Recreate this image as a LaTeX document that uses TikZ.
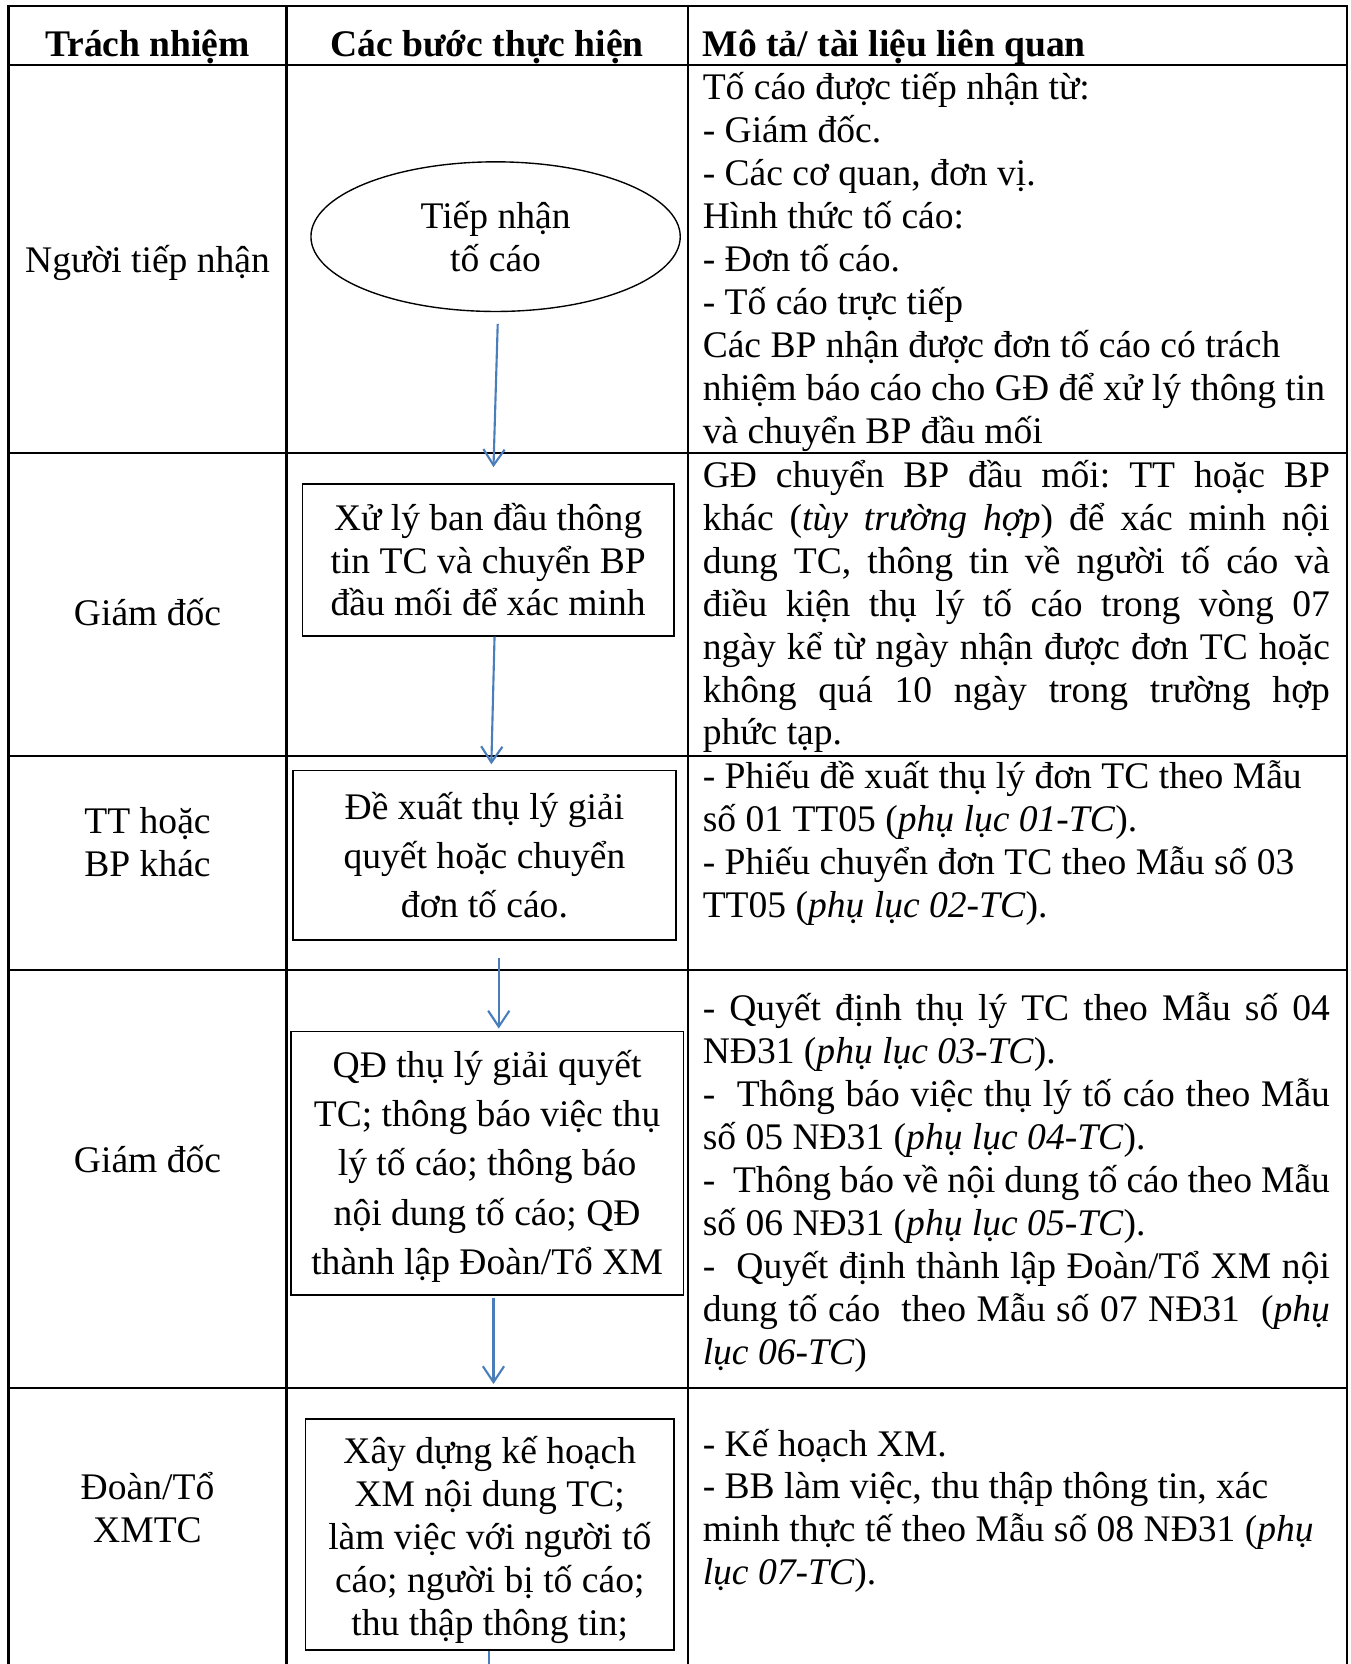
\documentclass[tikz,border=0pt]{standalone}
\usepackage{fontspec}
\setmainfont{Liberation Serif}
\usetikzlibrary{shapes.geometric,arrows.meta}
\definecolor{arrblue}{RGB}{74,126,187}
\frenchspacing
\newcommand{\jline}[1]{\makebox[591pt][s]{#1}}
\newcommand{\descbox}[1]{\parbox[t]{620pt}{\raggedright #1}}
\newcommand{\ctrbox}[1]{\parbox[t]{250pt}{\centering #1}}
\tikzset{
  tbl/.style={line width=2pt, black, line cap=rect},
  hdr/.style={font=\bfseries\fontsize{35.4}{40.5}\selectfont, inner sep=0pt},
  lbl/.style={font=\fontsize{35.4}{40.5}\selectfont, anchor=base, inner sep=0pt},
  desc/.style={font=\fontsize{35.4}{40.5}\selectfont, anchor=base west, inner sep=0pt},
  stepbox/.style={draw, line width=1.6pt, rectangle, inner sep=0pt, align=center},
  flowline/.style={draw=arrblue, line width=2pt},
  arr/.style={flowline, -{Straight Barb[length=15pt,width=20pt]}},
}
\begin{document}
\begin{tikzpicture}[x=1pt,y=-1pt]
\useasboundingbox (0,0) rectangle (1273,1568);
% table grid
\draw[tbl] (8,6) -- (1269,6);
\draw[tbl] (8,61) -- (1269,61);
\draw[tbl] (8,427) -- (1269,427);
\draw[tbl] (8,712) -- (1269,712);
\draw[tbl] (8,914) -- (1269,914);
\draw[tbl] (8,1308) -- (1269,1308);
\draw[tbl] (8,6) -- (8,1575);
\draw[tbl] (270,6) -- (270,1575);
\draw[tbl] (648,6) -- (648,1575);
\draw[tbl] (1269,6) -- (1269,1575);

% headers
\node[hdr, anchor=base] (h1) at (139,53) {Trách nhiệm};
\node[hdr, anchor=base] (h2) at (459,53) {Các bước thực hiện};
\node[hdr, anchor=base west] (h3) at (662,53) {Mô tả/ tài liệu liên quan};

% column 1 labels
\node[lbl] (r1) at (139,257) {Người tiếp nhận};
\node[lbl] (r2) at (139,589) {Giám đốc};
\node[lbl] (r3) at (139,785) {\ctrbox{TT hoặc\\BP khác}};
\node[lbl] (r4) at (139,1105) {Giám đốc};
\node[lbl] (r5) at (139,1413) {\ctrbox{Đoàn/Tổ\\XMTC}};

% column 2 steps
\node[draw, ellipse, line width=1.3pt, minimum width=348pt, minimum height=141pt, inner sep=0pt,
      align=center, font=\fontsize{35.4}{41}\selectfont] (e) at (467,223) {Tiếp nhận\\tố cáo};
\node[stepbox, minimum width=350pt, minimum height=143pt, font=\fontsize{35.4}{40}\selectfont]
  (b1) at (460,527.5) {Xử lý ban đầu thông\\tin TC và chuyển BP\\đầu mối để xác minh};
\node[stepbox, minimum width=361pt, minimum height=160pt, font=\fontsize{35.4}{46}\selectfont]
  (b2) at (456.5,806) {Đề xuất thụ lý giải\\quyết hoặc chuyển\\đơn tố cáo.};
\node[stepbox, minimum width=370pt, minimum height=248pt, font=\fontsize{35.4}{46.5}\selectfont]
  (b3) at (459,1096) {\parbox{366pt}{\vspace*{6pt}\centering QĐ thụ lý giải quyết\\TC; thông báo việc thụ\\lý tố cáo; thông báo\\nội dung tố cáo; QĐ\\thành lập Đoàn/Tổ XM}};
\node[stepbox, minimum width=347pt, minimum height=218pt, font=\fontsize{35.4}{40.5}\selectfont]
  (b4) at (461.5,1446) {\parbox{343pt}{\vspace*{10pt}\centering Xây dựng kế hoạch\\XM nội dung TC;\\làm việc với người tố\\cáo; người bị tố cáo;\\thu thập thông tin;}};
\coordinate (endc) at (461,1575);

% connectors
\draw[arr] ([xshift=2pt,yshift=-11pt]e.south) -- ([xshift=5pt,yshift=15pt]b1.north);
\draw[arr] ([xshift=6pt]b1.south) -- ([xshift=6.5pt,yshift=5pt]b2.north);
\draw[arr] ([xshift=13.5pt,yshift=-16pt]b2.south) -- ([xshift=11pt,yshift=2pt]b3.north);
\draw[arr] ([xshift=6pt,yshift=-2pt]b3.south) -- ([xshift=3.5pt,yshift=32pt]b4.north);
\draw[flowline] ([xshift=-0.5pt]b4.south) -- (endc);

% column 3 descriptions
\node[desc] (d1) at (662,94) {\descbox{Tố cáo được tiếp nhận từ:\\
- Giám đốc.\\
- Các cơ quan, đơn vị.\\
Hình thức tố cáo:\\
- Đơn tố cáo.\\
- Tố cáo trực tiếp\\
Các BP nhận được đơn tố cáo có trách\\
nhiệm báo cáo cho GĐ để xử lý thông tin\\
và chuyển BP đầu mối}};

\node[desc] (d2) at (662,459) {\descbox{\jline{GĐ chuyển BP đầu mối: TT hoặc BP}\\
\jline{khác (\textit{tùy trường hợp}) để xác minh nội}\\
\jline{dung TC, thông tin về người tố cáo và}\\
\jline{điều kiện thụ lý tố cáo trong vòng 07}\\
\jline{ngày kể từ ngày nhận được đơn TC hoặc}\\
\jline{không quá 10 ngày trong trường hợp}\\
phức tạp.}};

\node[desc] (d3) at (662,743) {\descbox{- Phiếu đề xuất thụ lý đơn TC theo Mẫu\\
số 01 TT05 (\textit{phụ lục 01-TC}).\\
- Phiếu chuyển đơn TC theo Mẫu số 03\\
TT05 (\textit{phụ lục 02-TC}).}};

\node[desc] (d4) at (662,962) {\descbox{\jline{- Quyết định thụ lý TC theo Mẫu số 04}\\
NĐ31 (\textit{phụ lục 03-TC}).\\
\jline{-\ \ Thông báo việc thụ lý tố cáo theo Mẫu}\\
số 05 NĐ31 (\textit{phụ lục 04-TC}).\\
\jline{-\ \ Thông báo về nội dung tố cáo theo Mẫu}\\
số 06 NĐ31 (\textit{phụ lục 05-TC}).\\
\jline{-\ \ Quyết định thành lập Đoàn/Tổ XM nội}\\
\jline{dung tố cáo\ \ theo Mẫu số 07 NĐ31\ \ (\textit{phụ}}\\
\textit{lục 06-TC})}};

\node[desc] (d5) at (662,1372) {\descbox{- Kế hoạch XM.\\
- BB làm việc, thu thập thông tin, xác\\
minh thực tế theo Mẫu số 08 NĐ31 (\textit{phụ}\\
\textit{lục 07-TC}).}};
\end{tikzpicture}
\end{document}
